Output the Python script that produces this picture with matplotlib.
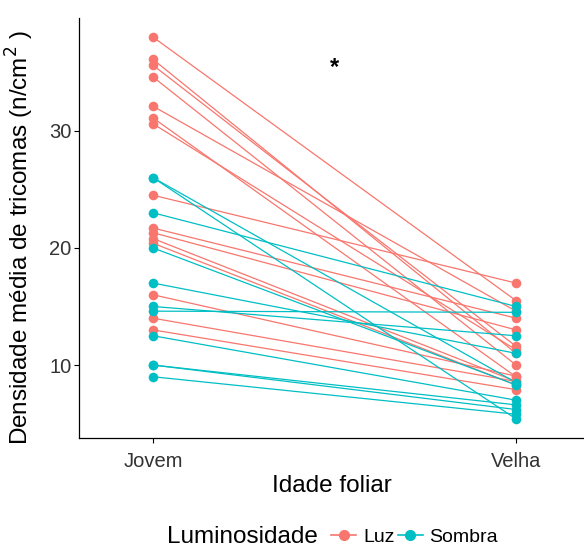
import matplotlib
matplotlib.use("Agg")
import matplotlib.pyplot as plt
from matplotlib.lines import Line2D

plt.rcParams['font.family'] = ['Liberation Sans', 'DejaVu Sans']

# valores (Jovem -> Velha, um par por planta)
idades = ['Jovem', 'Velha']
jovem_luz = [38.0, 36.1, 35.6, 34.6, 32.1, 31.1, 30.6, 24.5, 21.7, 21.3, 20.8, 20.4, 16.0, 14.0, 13.0]
velha_luz = [15.5, 11.0, 11.6, 10.0, 14.6, 9.0, 11.3, 17.0, 14.0, 13.0, 8.6, 8.3, 9.05, 8.6, 7.9]
jovem_sombra = [26.0, 26.0, 23.0, 20.0, 17.0, 15.0, 14.6, 12.5, 10.0, 10.0, 9.0]
velha_sombra = [8.5, 5.4, 15.0, 8.3, 11.0, 12.5, 14.5, 7.0, 6.6, 6.2, 5.8]

cor_luz = '#F8766D'
cor_sombra = '#00BFC4'

fig = plt.figure(figsize=(5.84, 5.51), dpi=100)
ax = fig.add_axes([79 / 584, 1 - 438 / 551, 1 - 79 / 584, 420 / 551])

x = [1, 2]
for j, v in zip(jovem_luz, velha_luz):
    ax.plot(x, [j, v], color=cor_luz, lw=0.9, zorder=2)
for j, v in zip(jovem_sombra, velha_sombra):
    ax.plot(x, [j, v], color=cor_sombra, lw=0.9, zorder=2)
ax.scatter([1] * len(jovem_luz) + [2] * len(velha_luz), jovem_luz + velha_luz,
           s=48, color=cor_luz, zorder=3, linewidths=0)
ax.scatter([1] * len(jovem_sombra) + [2] * len(velha_sombra), jovem_sombra + velha_sombra,
           s=48, color=cor_sombra, zorder=3, linewidths=0)

ax.text(1.5, 35.4, '*', fontsize=17, fontweight='bold', ha='center', va='center')

ax.set_xlim(1 - 74 / 363, 2 + 68 / 363)
ax.set_ylim(3.77, 39.63)
ax.set_xticks(x)
ax.set_xticklabels(idades)
ax.set_yticks([10, 20, 30])
ax.tick_params(labelsize=14.5, labelcolor='#333333', length=3.5, width=0.8, direction='out')
ax.tick_params(axis='x', pad=6.5)
ax.tick_params(axis='y', pad=2)
for s in ['top', 'right']:
    ax.spines[s].set_visible(False)
for s in ['left', 'bottom']:
    ax.spines[s].set_linewidth(0.9)

ax.set_xlabel('Idade foliar', fontsize=17.5)
ax.set_ylabel('Densidade média de tricomas (n/cm$^2$ )', fontsize=17.5)
ax.xaxis.set_label_coords(0.5, -0.088)
ax.yaxis.set_label_coords(-0.085, 0.477)

# legenda embaixo, titulo a esquerda
fig.text(167 / 584, 1 - 537 / 551, 'Luminosidade', fontsize=17.5, va='center', ha='left')
handles = [Line2D([], [], color=cor_luz, marker='o', markersize=7, lw=1.2),
           Line2D([], [], color=cor_sombra, marker='o', markersize=7, lw=1.2)]
fig.legend(handles, ['Luz', 'Sombra'], ncol=2, loc='center left',
           bbox_to_anchor=(331 / 584, 1 - 537 / 551), frameon=False, fontsize=14,
           handlelength=1.3, handletextpad=0.35, columnspacing=0.15, borderaxespad=0, borderpad=0)

fig.savefig('out.png', dpi=100)
